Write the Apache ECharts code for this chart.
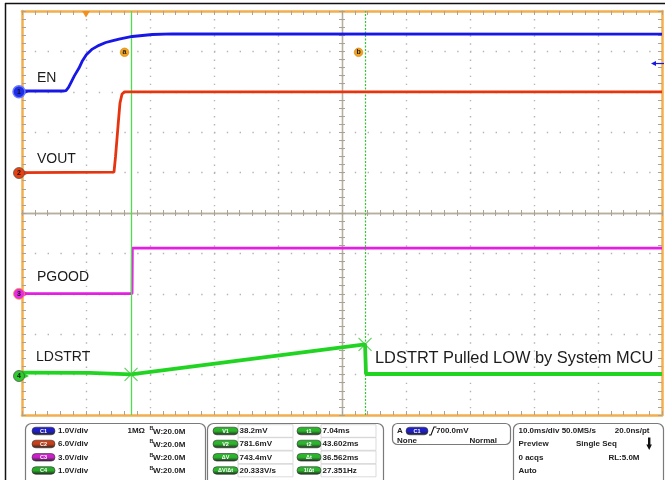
<!DOCTYPE html>
<html><head><meta charset="utf-8">
<script src="https://cdn.jsdelivr.net/npm/echarts@6/dist/echarts.min.js"></script>
<style>html,body{margin:0;padding:0;background:#fff}#c{width:665px;height:480px}</style>
</head><body><div id="c"></div>
<script>
// ---- time axis (ms), 10 ms/div ----
const xMin = -10, xMax = 90, xInterval = 10;
const vDivs = 10;
// ---- channels ----
const channelNames = ['EN', 'VOUT', 'PGOOD', 'LDSTRT'];
const channelNums = ['1', '2', '3', '4'];
const channelIds = ['C1', 'C2', 'C3', 'C4'];
const voltsPerDiv = [1.0, 6.0, 3.0, 1.0];
const groundDiv = [8.0, 5.99, 3.0, 0.965]; // channel position, divisions above bottom
// ---- waveforms ----
const enTime = [-10, -3.6, -3.13, -2.73, -2.39, -1.80, -1.09, -0.55, 0.05, 0.98, 2.03, 3.08, 4.06, 5.16, 7.23, 10.36, 13.48, 90];
const enVolts = [0.02, 0.02, 0.03, 0.11, 0.215, 0.40, 0.587, 0.77, 0.916, 1.057, 1.15, 1.220, 1.26, 1.304, 1.369, 1.418, 1.433, 1.43];
const voutTime = [-10, 4.375, 4.61, 4.84, 5.08, 5.31, 5.63, 6.02, 90];
const voutVolts = [0.05, 0.12, 2.38, 5.05, 7.87, 10.40, 11.73, 12.05, 12.05];
const pgoodTime = [-10, 7.2, 7.24, 90];
const pgoodVolts = [0.02, 0.02, 3.39, 3.39];
const ldstrtTime = [-10, 0.55, 0.8, 7.04, 43.602, 43.75, 90];
const ldstrtVolts = [0.082, 0.080, 0.045, 0.0382, 0.7816, 0.05, 0.05];
// ---- cursors / trigger ----
const cursorTimes = [7.04, 43.602];
const cursorVolts = [0.0382, 0.7816];
const cursorNames = ['a', 'b'];
const triggerTime = 0;
const triggerLevel = 0.7;
// ---- readouts ----
const chanScaleText = ['1.0V/div', '6.0V/div', '3.0V/div', '1.0V/div'];
const bwText = ['W:20.0M', 'W:20.0M', 'W:20.0M', 'W:20.0M'];
const measNamesA = ['V1', 'V2', 'ΔV', 'ΔV/Δt'];
const measValsA = ['38.2mV', '781.6mV', '743.4mV', '20.333V/s'];
const measNamesB = ['t1', 't2', 'Δt', '1/Δt'];
const measValsB = ['7.04ms', '43.602ms', '36.562ms', '27.351Hz'];

const traceColors = ['#1818e6', '#e6340f', '#e41ee4', '#22d422'];
const markerColors = ['#1e2ee8', '#e8400f', '#e62ae6', '#2ccc2c'];
const pillColors = ['#2020c8', '#c8401a', '#c822c8', '#28aa28'];
const orange = '#f4ae4c';
const tickStyle = { color: '#aaa292', width: 1 };
const FONT = '"Liberation Sans", Arial, sans-serif';

const pair = (ts, vs) => ts.map((t, i) => [t, vs[i]]);

function xAx(extra) {
  return Object.assign({
    type: 'value', min: xMin, max: xMax, interval: xInterval, gridIndex: 0,
    axisLabel: { show: false },
    splitLine: { show: false },
    axisTick: { show: true, inside: true, length: 4, lineStyle: tickStyle },
    minorTick: { show: true, splitNumber: 5, length: 4, lineStyle: tickStyle },
  }, extra);
}
function yAx(extra) {
  return Object.assign({
    type: 'value', min: 0, max: vDivs, interval: 1, gridIndex: 0,
    axisLabel: { show: false },
    splitLine: { show: false },
    axisTick: { show: true, inside: true, length: 4, lineStyle: tickStyle },
    minorTick: { show: true, splitNumber: 5, length: 4, lineStyle: tickStyle },
  }, extra);
}
const centerLine = { onZero: false, lineStyle: { color: '#b6ae9e', width: 1.3 } };
const edgeLine = { onZero: false, lineStyle: { color: orange, width: 2.5 } };

const option = {
  animation: false,
  backgroundColor: '#fff',
  grid: { left: 22, top: 11, width: 640, height: 404, outerBoundsMode: 'none' },
  xAxis: [
    xAx({ position: 'bottom', axisLine: edgeLine,
      splitLine: { show: true, lineStyle: { color: '#b4b4b4', width: 1.4, type: [1.4, 6.68] } } }),
    xAx({ position: 'top', axisLine: edgeLine }),
    xAx({ position: 'bottom', offset: -202, axisLine: centerLine,
      axisTick: { show: true, inside: true, length: 3, lineStyle: tickStyle },
      minorTick: { show: true, splitNumber: 5, length: 3, lineStyle: tickStyle } }),
    xAx({ position: 'bottom', offset: -202, axisLine: centerLine,
      axisTick: { show: true, inside: false, length: 3, lineStyle: tickStyle },
      minorTick: { show: true, splitNumber: 5, length: 3, lineStyle: tickStyle } }),
  ],
  yAxis: [
    yAx({ position: 'left', axisLine: edgeLine,
      splitLine: { show: true, lineStyle: { color: '#b4b4b4', width: 1.4, type: [1.4, 11.4] } } }),
    yAx({ position: 'right', axisLine: edgeLine }),
    yAx({ position: 'left', offset: -320, axisLine: centerLine,
      axisTick: { show: true, inside: true, length: 3, lineStyle: tickStyle },
      minorTick: { show: true, splitNumber: 5, length: 3, lineStyle: tickStyle } }),
    yAx({ position: 'left', offset: -320, axisLine: centerLine,
      axisTick: { show: true, inside: false, length: 3, lineStyle: tickStyle },
      minorTick: { show: true, splitNumber: 5, length: 3, lineStyle: tickStyle } }),
  ].concat(channelNames.map((n, i) => ({
    type: 'value', show: false, gridIndex: 0,
    min: -groundDiv[i] * voltsPerDiv[i], max: (vDivs - groundDiv[i]) * voltsPerDiv[i]
  }))),
  series: [
    {
      type: 'line', name: channelNames[3], xAxisIndex: 0, yAxisIndex: 7, z: 3,
      data: pair(ldstrtTime, ldstrtVolts), symbol: 'none',
      lineStyle: { color: traceColors[3], width: 3.8 },
      markLine: {
        silent: true, symbol: ['none', 'none'], label: { show: false },
        data: [
          { xAxis: cursorTimes[0], lineStyle: { color: '#4fdc4f', width: 1.3, type: 'solid' } },
          { xAxis: cursorTimes[1], lineStyle: { color: '#34c434', width: 1.2, type: [2, 1.5] } }
        ]
      }
    },
    { type: 'line', name: channelNames[2], xAxisIndex: 0, yAxisIndex: 6, z: 4,
      data: pair(pgoodTime, pgoodVolts), symbol: 'none', lineStyle: { color: traceColors[2], width: 2.8 } },
    { type: 'line', name: channelNames[1], xAxisIndex: 0, yAxisIndex: 5, z: 5,
      data: pair(voutTime, voutVolts), symbol: 'none', lineStyle: { color: traceColors[1], width: 2.8 } },
    { type: 'line', name: channelNames[0], xAxisIndex: 0, yAxisIndex: 4, z: 6,
      data: pair(enTime, enVolts), symbol: 'none',
      lineStyle: { color: traceColors[0], width: 2.8, join: 'round' } },
    { type: 'scatter', xAxisIndex: 0, yAxisIndex: 7, z: 7,
      data: pair(cursorTimes, cursorVolts),
      symbol: 'path://M0,0L10,10M10,0L0,10', symbolSize: 13,
      itemStyle: { color: 'rgba(0,0,0,0)', borderColor: '#2ec82e', borderWidth: 1.1 } }
  ]
};

const chart = echarts.init(document.getElementById('c'));
chart.setOption(option);

// ---------- decorations ----------
const G = [];
function txt(t, x, y, o) {
  o = o || {};
  G.push({ type: 'text', z: 50, style: Object.assign({
    text: t, x: x, y: y, fill: '#1c1c1c', fontSize: 14, fontFamily: FONT,
    align: 'left', verticalAlign: 'middle' }, o) });
}
function btxt(t, x, y, o) { txt(t, x, y, Object.assign({ fontSize: 8, fontWeight: 'bold', fill: '#222' }, o)); }
function pill(x, y, w, h, color, label) {
  G.push({ type: 'rect', z: 50, shape: { x: x, y: y, width: w, height: h, r: h / 2 },
    style: { fill: new echarts.graphic.LinearGradient(0, 0, 0, 1, [
      { offset: 0, color: color }, { offset: 0.5, color: color }, { offset: 1, color: '#222' }]),
      stroke: '#333', lineWidth: 0.6 } });
  G.push({ type: 'text', z: 51, style: { text: label, x: x + w / 2, y: y + h / 2 + 0.3,
    fill: '#fff', fontSize: 5.5, fontWeight: 'bold', fontFamily: FONT, align: 'center', verticalAlign: 'middle' } });
}
// outer black frame
G.push({ type: 'line', z: 40, shape: { x1: 5.5, y1: 3, x2: 5.5, y2: 480 }, style: { stroke: '#111', lineWidth: 1.5 } });
G.push({ type: 'line', z: 40, shape: { x1: 5, y1: 3.5, x2: 665, y2: 3.5 }, style: { stroke: '#111', lineWidth: 1.5 } });

// channel ground markers
channelNums.forEach((n, i) => {
  const y = chart.convertToPixel({ yAxisIndex: 4 + i }, 0);
  G.push({ type: 'polygon', z: 45, shape: { points: [[24, y - 2.5], [29, y], [24, y + 2.5]] }, style: { fill: traceColors[i] } });
  G.push({ type: 'circle', z: 46, shape: { cx: 19, cy: y, r: i === 0 ? 6 : 5.5 },
    style: { fill: markerColors[i], stroke: i === 2 ? '#f0a030' : (i === 0 ? '#6a7aff' : '#555'), lineWidth: i === 0 ? 1.5 : 0.8 } });
  G.push({ type: 'text', z: 47, style: { text: n, x: 19, y: y + 0.5, fill: '#111', fontSize: 7, fontWeight: 'bold',
    fontFamily: FONT, align: 'center', verticalAlign: 'middle' } });
});

// trigger position marker & level arrow
const tx = chart.convertToPixel({ xAxisIndex: 0 }, triggerTime);
G.push({ type: 'polygon', z: 45, shape: { points: [[tx - 4, 11], [tx + 4, 11], [tx, 17.5]] }, style: { fill: '#f09020' } });
const ty = chart.convertToPixel({ yAxisIndex: 4 }, triggerLevel);
G.push({ type: 'line', z: 45, shape: { x1: 653, y1: ty, x2: 664, y2: ty }, style: { stroke: '#1818e6', lineWidth: 1.2 } });
G.push({ type: 'polygon', z: 45, shape: { points: [[651, ty], [656, ty - 2.5], [656, ty + 2.5]] }, style: { fill: '#1818e6' } });

// cursor labels
cursorTimes.forEach((t, i) => {
  const cx = chart.convertToPixel({ xAxisIndex: 0 }, t) - 6.5;
  G.push({ type: 'circle', z: 45, shape: { cx: cx, cy: 52.3, r: 4.3 }, style: { fill: '#f2a21c', stroke: '#d08010', lineWidth: 0.6 } });
  G.push({ type: 'text', z: 46, style: { text: cursorNames[i], x: cx, y: 52, fill: '#222', fontSize: 7, fontWeight: 'bold',
    fontFamily: FONT, align: 'center', verticalAlign: 'middle' } });
});

// trace labels
txt(channelNames[0], 37, 78);
txt(channelNames[1], 37, 159.5);
txt(channelNames[2], 37, 277);
txt(channelNames[3], 36, 357.5);
txt('LDSTRT Pulled LOW by System MCU', 375, 358.5, { fontSize: 16.4 });

// ---------- bottom readout panel ----------
function box(x, y, w, h, r) {
  G.push({ type: 'rect', z: 40, shape: { x: x, y: y, width: w, height: h, r: r },
    style: { fill: '#fff', stroke: '#7a7a7a', lineWidth: 1.2 } });
}
const rows = [431, 444, 457.3, 470.5];
box(25.5, 423.5, 180, 64, 6);
box(207.5, 423.5, 176, 64, 6);
box(392.5, 423.5, 118, 21, 5);
box(513.5, 423.5, 150, 64, 6);

// box 1: channel setup
rows.forEach((ry, i) => {
  pill(32, ry - 3.8, 23, 7.6, pillColors[i], channelIds[i]);
  btxt(chanScaleText[i], 58, ry);
  btxt('B', 149.5, ry - 2.2, { fontSize: 5.5 });
  btxt(bwText[i], 153, ry + 0.5);
});
btxt('1MΩ', 145, rows[0], { align: 'right' });

// box 2: cursor measurements
rows.forEach((ry, i) => {
  G.push({ type: 'rect', z: 41, shape: { x: 238, y: ry - 6.3, width: 55, height: 12.6 }, style: { fill: 'none', stroke: '#d2d2d2', lineWidth: 0.8 } });
  G.push({ type: 'rect', z: 41, shape: { x: 321, y: ry - 6.3, width: 55, height: 12.6 }, style: { fill: 'none', stroke: '#d2d2d2', lineWidth: 0.8 } });
  pill(213, ry - 3.8, 25, 7.6, '#2cb52c', measNamesA[i]);
  btxt(measValsA[i], 239.5, ry);
  pill(297, ry - 3.8, 24, 7.6, '#2cb52c', measNamesB[i]);
  btxt(measValsB[i], 322.5, ry);
});

// box 3: trigger
btxt('A', 397, 431);
pill(406, 427.2, 22, 7.6, pillColors[0], 'C1');
G.push({ type: 'polyline', z: 45, shape: { points: [[429, 435], [431, 435], [434, 427], [436.5, 427]] }, style: { stroke: '#111', lineWidth: 1.1, fill: null } });
btxt('700.0mV', 436, 431);
btxt('None', 397, 441);
btxt('Normal', 497, 441, { align: 'right' });

// box 4: acquisition
btxt('10.0ms/div 50.0MS/s', 518.5, rows[0]);
btxt('20.0ns/pt', 649.5, rows[0], { align: 'right' });
btxt('Preview', 518.5, rows[1]);
btxt('Single Seq', 576, rows[1]);
btxt('0 acqs', 518.5, rows[2]);
btxt('RL:5.0M', 639.5, rows[2], { align: 'right' });
btxt('Auto', 518.5, rows[3]);
G.push({ type: 'rect', z: 45, shape: { x: 648, y: 437.5, width: 2.4, height: 8 }, style: { fill: '#111' } });
G.push({ type: 'polygon', z: 45, shape: { points: [[646.3, 444.5], [651.9, 444.5], [649.2, 450]] }, style: { fill: '#111' } });

chart.setOption({ graphic: { elements: G } });
</script>
</body></html>
